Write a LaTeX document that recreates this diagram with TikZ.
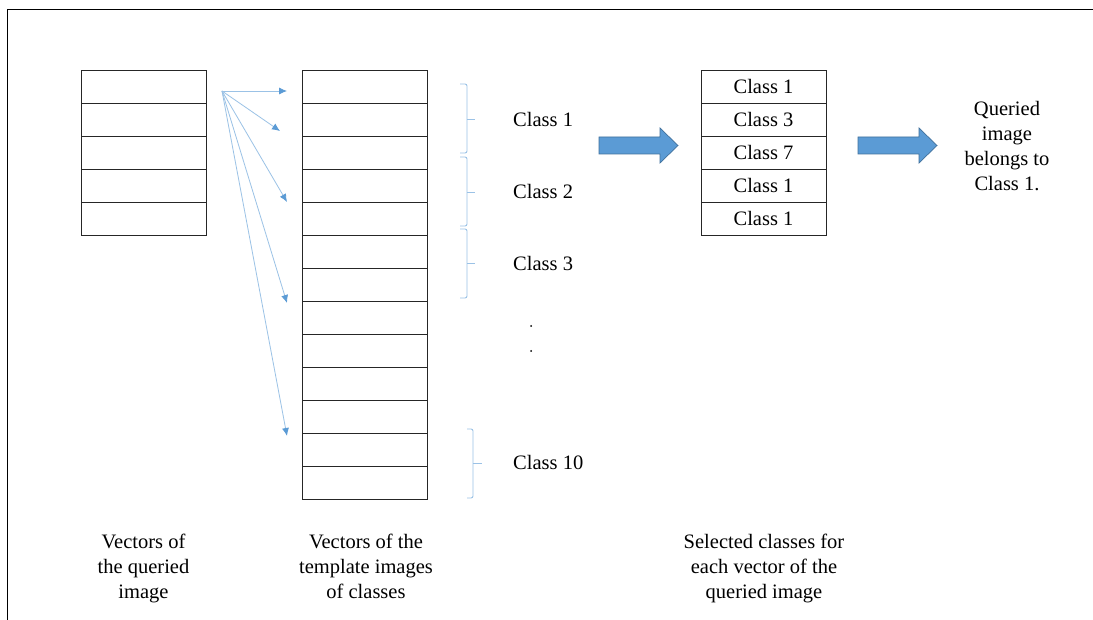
\documentclass[tikz,border=0pt]{standalone}
\usepackage{fontspec}
\setmainfont{Liberation Serif}
\usetikzlibrary{arrows.meta}
\definecolor{lblue}{RGB}{91,155,213}
\definecolor{lline}{RGB}{155,194,230}
\definecolor{darrow}{RGB}{65,113,156}
\newcommand{\celltext}[1]{\raisebox{-1.5pt}{#1}}
\begin{document}
\begin{tikzpicture}[x=1pt,y=-1pt,
  cell/.style={draw=black!85,line width=0.9pt,minimum width=125pt,minimum height=33pt,inner sep=0pt,outer sep=0pt,font=\fontsize{20.5}{24}\selectfont},
  fan/.style={draw=lline,line width=0.8pt,-{Latex[length=8pt,width=7pt,fill=lblue,color=lblue]}},
  bracket/.style={draw=lline,line width=0.9pt,rounded corners=2pt},
  lbl/.style={font=\fontsize{20.5}{25}\selectfont,align=center,inner sep=0pt},
  blockarrow/.style={fill=lblue,draw=darrow,line width=0.7pt}]
\useasboundingbox (0,0) rectangle (1093,620);
\fill[white] (0,0) rectangle (1093,620);
% frame
\draw[line width=1.7pt] (7.5,620) -- (7.5,9.5) -- (1093,9.5);
% left stack
\foreach \i in {1,...,5}{\node[cell] (q\i) at (143.5,{70+33*(\i-1)+16.5}) {};}
% middle stack
\foreach \i in {1,...,13}{\node[cell] (t\i) at (364.5,{70+33*(\i-1)+16.5}) {};}
% right stack
\node[cell] (s1) at (763.5,86.5) {\celltext{Class 1}};
\node[cell] (s2) at (763.5,119.5) {\celltext{Class 3}};
\node[cell] (s3) at (763.5,152.5) {\celltext{Class 7}};
\node[cell] (s4) at (763.5,185.5) {\celltext{Class 1}};
\node[cell] (s5) at (763.5,218.5) {\celltext{Class 1}};
% fan arrows
\coordinate (o) at (222,91);
\coordinate (e1) at (287,91);
\coordinate (e2) at (280,131);
\coordinate (e3) at (287,202);
\coordinate (e4) at (287,303);
\coordinate (e5) at (287,436);
\foreach \j in {1,...,5}{\draw[fan] (o) -- (e\j);}
% brackets
\draw[bracket] (460,84) -- (467,84) -- (467,153) -- (460,153);
\draw[bracket] (467,119) -- (475,119);
\draw[bracket] (460,157) -- (467,157) -- (467,226) -- (460,226);
\draw[bracket] (467,192) -- (475,192);
\draw[bracket] (460,229) -- (467,229) -- (467,298) -- (460,298);
\draw[bracket] (467,263) -- (475,263);
\draw[bracket] (467,429) -- (473,429) -- (473,498) -- (467,498);
\draw[bracket] (473,463) -- (482,463);
% class labels
\node[lbl,anchor=west] (c1) at (513,119) {Class 1};
\node[lbl,anchor=west] (c2) at (513,191) {Class 2};
\node[lbl,anchor=west] (c3) at (513,263) {Class 3};
\node[lbl,anchor=west] (c10) at (513,462) {Class 10};
\fill (531,326) circle (1pt);
\fill (531,351) circle (1pt);
% block arrows
\draw[blockarrow] (599,137) -- (660,137) -- (660,128) -- (678,145.5) -- (660,163) -- (660,154) -- (599,154) -- cycle;
\draw[blockarrow] (858,137) -- (919,137) -- (919,128) -- (937,145.5) -- (919,163) -- (919,154) -- (858,154) -- cycle;
% result text
\node[lbl] (res) at (1007,146.5) {Queried\\image\\belongs to\\Class 1.};
% bottom labels
\node[lbl] (b1) at (143.5,568) {Vectors of\\the queried\\image};
\node[lbl] (b2) at (366,566) {Vectors of the\\template images\\of classes};
\node[lbl] (b3) at (764,568) {Selected classes for\\each vector of the\\queried image};
\end{tikzpicture}
\end{document}
